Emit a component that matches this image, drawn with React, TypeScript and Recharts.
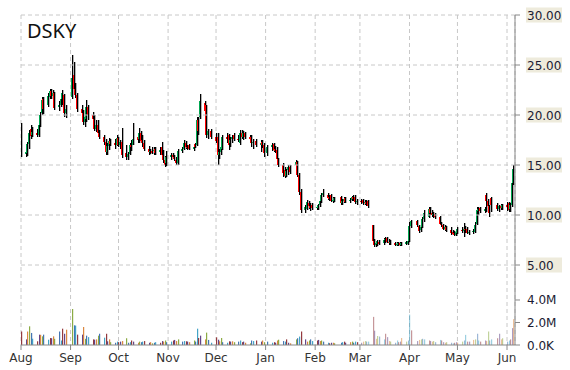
import React from "react";
import { ComposedChart, Bar, XAxis, YAxis, CartesianGrid, ReferenceLine } from "recharts";

const TITLE = "DSKY";

// trading calendar
const FIRST_DAY = "2014-08-01";
const LAST_DAY = "2015-06-05";
const AXIS_END = "2015-06-06";
const HOLIDAYS = ["2014-09-01", "2014-11-27", "2014-12-25", "2015-01-01", "2015-01-19", "2015-02-16", "2015-04-03", "2015-05-25"];

const MONTH_STARTS = ["2014-08-01", "2014-09-01", "2014-10-01", "2014-11-01", "2014-12-01", "2015-01-01", "2015-02-01", "2015-03-01", "2015-04-01", "2015-05-01", "2015-06-01"];
const MONTH_LABELS = ["Aug", "Sep", "Oct", "Nov", "Dec", "Jan", "Feb", "Mar", "Apr", "May", "Jun"];

const PRICE_TICKS = [5, 10, 15, 20, 25, 30];
const VOL_TICKS = [0, 2e6, 4e6];

// daily prices, one row per month
const OPEN = [
  17.6, 16.1, 16.2, 17.1, 18.6, 18.0, 18.2, 18.0, 19.0, 20.2, 21.6, 21.0, 21.8, 22.4, 21.9, 22.2, 20.8, 21.0, 21.6, 22.0, 20.2,
  21.8, 24.0, 22.6, 22.0, 20.6, 20.2, 19.3, 19.6, 20.8, 20.0, 19.6, 18.6, 19.0, 18.2, 17.8, 17.3, 16.3, 16.9, 17.4, 17.2, 17.0,
  17.7, 17.0, 17.3, 16.2, 15.8, 16.1, 17.0, 17.0, 17.8, 17.6, 18.2, 17.5, 17.2, 16.6, 16.3, 16.4, 16.4, 16.6, 16.3, 16.8, 16.0, 15.5, 15.2,
  15.8, 16.0, 15.8, 15.5, 15.2, 16.4, 16.6, 17.2, 16.8, 17.0, 16.6, 17.1, 17.0, 19.5, 19.8, 21.2, 21.0, 18.0, 18.4,
  17.8, 17.8, 16.0, 16.3, 16.6, 17.8, 18.0, 17.2, 17.6, 18.0, 17.6, 17.2, 18.2, 17.8, 18.2, 17.8, 17.8, 17.2, 17.4, 17.0, 17.3, 17.0,
  16.2, 16.8, 17.1, 16.6, 16.5, 15.6, 15.0, 14.5, 13.9, 14.5, 14.8, 15.0, 15.3, 14.0, 12.3, 10.5, 10.6, 11.2, 10.9, 11.0,
  10.7, 10.7, 11.0, 11.4, 12.0, 12.0, 11.8, 12.0, 11.4, 11.4, 11.8, 11.2, 11.4, 11.7, 11.4, 11.5, 11.8, 11.8, 11.3,
  11.4, 11.5, 11.2, 11.3, 11.4, 9.0, 7.4, 7.0, 7.1, 7.3, 7.2, 7.5, 7.7, 7.3, 7.2, 7.2, 7.0, 7.0, 7.2, 7.0, 7.1, 7.1,
  7.4, 8.9, 9.4, 8.9, 8.5, 8.8, 9.6, 9.8, 10.6, 10.2, 10.0, 10.1, 9.8, 9.1, 9.0, 8.6, 8.8, 8.5, 8.3, 8.2, 8.0,
  8.2, 8.5, 8.4, 8.6, 8.6, 8.2, 8.3, 8.3, 9.1, 10.4, 10.7, 10.4, 12.0, 11.4, 10.9, 11.7, 11.0, 10.6, 10.9, 10.7,
  11.0, 11.2, 10.6, 11.0, 13.2,
];
const HIGH = [
  19.2, 16.6, 17.3, 18.5, 19.0, 18.8, 18.6, 19.3, 20.3, 21.8, 21.8, 22.2, 22.6, 22.6, 22.5, 22.3, 21.4, 21.8, 22.5, 22.1, 21.0,
  26.0, 25.3, 23.2, 22.2, 21.0, 20.5, 20.0, 21.5, 21.0, 20.3, 20.0, 19.5, 19.5, 18.5, 18.0, 17.6, 17.2, 17.7, 17.6, 17.6, 18.0,
  17.8, 17.5, 18.7, 17.0, 16.3, 17.2, 17.5, 19.2, 18.2, 18.7, 18.4, 18.0, 17.5, 16.9, 16.6, 16.8, 16.8, 16.8, 16.8, 17.3, 16.5, 15.9, 16.4,
  16.2, 16.2, 16.0, 15.8, 16.6, 16.8, 17.5, 17.4, 17.0, 17.1, 17.0, 17.2, 19.8, 19.8, 22.1, 21.4, 21.0, 18.6, 18.6,
  18.2, 18.2, 16.6, 17.0, 18.0, 18.2, 18.1, 17.8, 18.0, 18.2, 18.0, 18.5, 18.5, 18.4, 18.3, 18.0, 18.0, 17.6, 17.6, 17.5, 17.5, 17.2,
  17.0, 17.2, 17.2, 16.9, 16.8, 15.7, 15.2, 14.8, 14.6, 15.0, 15.0, 15.5, 15.4, 14.2, 12.6, 11.0, 11.5, 11.4, 11.2, 11.2,
  11.0, 11.1, 11.6, 12.2, 12.6, 12.2, 12.0, 12.1, 11.8, 11.8, 11.9, 11.6, 11.8, 11.8, 11.7, 11.9, 12.0, 12.0, 11.6,
  11.6, 11.6, 11.5, 11.5, 11.5, 9.0, 7.6, 7.4, 7.5, 7.5, 7.7, 7.8, 7.8, 7.6, 7.5, 7.3, 7.3, 7.3, 7.3, 7.3, 7.4, 7.5,
  9.3, 9.5, 9.5, 9.0, 9.0, 9.8, 10.5, 10.8, 10.8, 10.5, 10.3, 10.2, 9.9, 9.3, 9.1, 9.0, 8.9, 8.8, 8.5, 8.4, 8.5,
  8.8, 8.8, 9.2, 8.9, 8.8, 8.5, 8.6, 9.3, 10.8, 10.8, 10.8, 10.8, 12.2, 11.6, 11.0, 11.8, 11.2, 11.0, 11.1, 11.1,
  11.3, 11.3, 11.2, 13.5, 15.0,
];
const LOW = [
  15.8, 15.8, 15.9, 16.6, 17.6, 17.8, 17.8, 17.8, 18.8, 20.0, 20.1, 20.8, 21.6, 21.6, 21.5, 20.5, 20.4, 20.8, 21.0, 19.8, 19.7,
  21.6, 22.2, 21.7, 20.3, 19.8, 19.0, 18.8, 19.3, 19.5, 19.2, 18.4, 18.3, 17.8, 17.6, 17.0, 16.0, 16.0, 16.5, 16.9, 16.6, 16.9,
  16.8, 16.6, 15.7, 15.5, 15.5, 16.0, 16.4, 17.0, 17.2, 17.2, 17.2, 16.8, 16.4, 16.0, 16.1, 16.1, 16.0, 16.0, 16.0, 15.7, 15.2, 14.8, 14.9,
  15.5, 15.6, 15.4, 15.0, 15.0, 16.2, 16.5, 16.6, 16.5, 16.5, 16.4, 16.7, 16.9, 18.0, 19.6, 20.0, 17.7, 17.6, 17.6,
  17.2, 15.0, 15.6, 16.0, 16.5, 17.2, 16.5, 16.8, 17.2, 17.4, 17.3, 17.0, 17.6, 17.5, 17.6, 17.4, 16.8, 16.6, 16.8, 16.3, 16.7, 15.8,
  15.9, 16.4, 16.3, 16.2, 15.4, 14.8, 13.8, 13.7, 13.8, 14.0, 14.1, 14.9, 13.8, 12.0, 10.2, 10.2, 10.5, 10.6, 10.4, 10.5,
  10.5, 10.5, 10.8, 11.2, 11.8, 11.5, 11.4, 11.3, 11.2, 11.3, 11.0, 11.0, 11.2, 11.2, 11.2, 11.4, 11.4, 11.1, 11.0,
  11.1, 11.0, 11.0, 10.9, 10.7, 7.2, 6.8, 6.8, 6.9, 7.0, 7.0, 7.2, 7.2, 7.0, 7.0, 6.9, 6.9, 6.9, 6.9, 6.9, 7.0, 7.0,
  7.3, 8.7, 8.8, 8.2, 8.3, 8.7, 9.3, 9.7, 10.0, 9.8, 9.7, 9.6, 9.0, 8.8, 8.5, 8.4, 8.3, 8.0, 8.0, 7.9, 7.9,
  8.1, 8.2, 7.8, 8.2, 8.1, 8.0, 8.1, 8.2, 9.0, 10.0, 10.2, 10.2, 10.3, 10.6, 9.8, 10.3, 10.4, 10.3, 10.5, 10.5,
  10.4, 10.3, 10.3, 10.8, 13.0,
];
const CLOSE = [
  16.0, 16.3, 17.1, 18.2, 17.9, 18.3, 18.0, 19.0, 20.0, 21.5, 20.6, 21.9, 22.4, 21.9, 22.2, 20.7, 21.0, 21.6, 22.2, 20.2, 20.6,
  23.7, 22.6, 22.0, 20.6, 20.2, 19.3, 19.8, 20.8, 20.0, 19.6, 18.6, 19.0, 18.2, 17.8, 17.3, 16.3, 16.9, 17.4, 17.1, 17.0, 17.7,
  17.0, 17.3, 16.0, 15.8, 16.1, 17.0, 16.8, 17.6, 17.5, 18.2, 17.4, 17.2, 16.6, 16.3, 16.4, 16.2, 16.5, 16.2, 16.5, 16.0, 15.5, 15.0, 15.8,
  16.0, 15.8, 15.6, 15.2, 16.4, 16.6, 17.2, 16.8, 16.7, 16.6, 16.8, 16.8, 19.5, 18.4, 21.4, 20.4, 18.0, 18.4, 17.8,
  17.4, 16.0, 16.3, 16.8, 17.8, 17.6, 17.0, 17.5, 17.8, 17.6, 17.5, 18.2, 17.8, 18.2, 17.8, 17.6, 17.2, 17.3, 17.0, 17.2, 17.0, 16.2,
  16.8, 17.0, 16.5, 16.4, 15.6, 15.0, 14.2, 13.9, 14.4, 14.8, 14.3, 15.3, 14.0, 12.3, 10.5, 10.8, 11.3, 10.9, 10.7, 10.7,
  10.8, 11.0, 11.4, 12.0, 12.2, 11.7, 11.6, 11.4, 11.5, 11.7, 11.2, 11.4, 11.6, 11.3, 11.5, 11.8, 11.6, 11.3, 11.4,
  11.3, 11.2, 11.3, 11.1, 10.9, 7.4, 7.0, 7.2, 7.4, 7.1, 7.5, 7.6, 7.3, 7.2, 7.3, 7.0, 7.1, 7.2, 7.0, 7.2, 7.3, 7.4,
  8.9, 9.4, 9.0, 8.4, 8.8, 9.6, 10.2, 10.6, 10.2, 10.0, 10.1, 9.8, 9.1, 9.0, 8.6, 8.8, 8.5, 8.2, 8.1, 8.0, 8.3,
  8.6, 8.4, 8.6, 8.5, 8.2, 8.3, 8.4, 9.0, 10.5, 10.6, 10.4, 10.6, 11.4, 10.9, 10.2, 11.0, 10.6, 10.9, 10.7, 11.0,
  10.8, 10.5, 11.0, 13.2, 14.6,
];
// volume in millions
const VOLUME = [
  1.2, 0.5, 1.2, 1.66, 1.07, 0.56, 0.33, 0.92, 0.9, 0.77, 0.92, 0.47, 0.62, 0.6, 0.77, 0.55, 1.2, 0.4, 1.45, 1.0, 1.36,
  3.2, 1.75, 1.72, 0.92, 0.92, 1.6, 0.55, 0.83, 0.7, 0.5, 0.47, 0.5, 0.83, 1.0, 0.65, 1.0, 0.33, 0.5, 0.25, 0.2, 0.3,
  0.25, 0.3, 0.35, 0.6, 0.2, 0.25, 0.4, 0.3, 0.2, 0.3, 0.25, 0.3, 0.35, 0.2, 0.25, 0.15, 0.2, 0.25, 0.2, 0.35, 0.3, 0.4, 0.25,
  0.3, 0.4, 0.45, 0.35, 0.5, 0.3, 0.35, 0.33, 0.3, 0.25, 0.4, 0.3, 1.45, 0.62, 0.83, 0.5, 1.1, 0.45, 0.2,
  0.68, 0.47, 0.33, 0.62, 0.25, 0.2, 0.33, 0.3, 0.33, 0.25, 0.3, 0.4, 0.25, 0.3, 0.2, 0.15, 0.4, 0.35, 0.4, 0.3, 0.4, 0.25,
  0.3, 0.2, 0.25, 0.2, 0.4, 0.47, 0.35, 0.3, 0.5, 0.2, 0.15, 0.5, 0.6, 0.75, 1.2, 0.5, 0.3, 0.4, 0.5, 0.35,
  0.4, 0.45, 0.35, 0.4, 0.3, 0.2, 0.15, 0.2, 0.2, 0.15, 0.2, 0.25, 0.3, 0.2, 0.25, 0.3, 0.2, 0.3, 0.25,
  0.2, 0.3, 0.35, 0.3, 0.3, 2.5, 1.27, 0.55, 0.8, 0.75, 0.5, 1.0, 0.7, 0.35, 0.3, 0.2, 0.4, 0.25, 0.3, 0.62, 0.3, 0.4,
  2.7, 1.3, 0.35, 0.45, 0.5, 0.55, 0.5, 0.4, 0.35, 0.3, 0.35, 0.25, 0.45, 0.4, 0.25, 0.2, 0.25, 0.2, 0.15, 0.2, 0.25,
  0.2, 0.3, 0.4, 0.9, 0.3, 0.3, 0.45, 0.5, 1.0, 0.4, 0.3, 0.4, 0.35, 1.2, 0.4, 0.5, 0.6, 1.0, 0.5, 0.6,
  0.3, 0.4, 0.5, 1.5, 2.3,
];

const DAY_MS = 86400000;
const T0 = Date.parse(FIRST_DAY);
const dayOf = (iso: string) => (Date.parse(iso) - T0) / DAY_MS;

const tradingDays: number[] = [];
for (let t = T0; t <= Date.parse(LAST_DAY); t += DAY_MS) {
  const dt = new Date(t);
  const wd = dt.getUTCDay();
  if (wd === 0 || wd === 6) continue;
  if (HOLIDAYS.includes(dt.toISOString().slice(0, 10))) continue;
  tradingDays.push(dayOf(dt.toISOString().slice(0, 10)));
}

const n = Math.min(tradingDays.length, OPEN.length, HIGH.length, LOW.length, CLOSE.length, VOLUME.length);
const rows = Array.from({ length: n }, (_, i) => ({
  i,
  d: tradingDays[i],
  o: OPEN[i],
  hi: HIGH[i],
  lo: LOW[i],
  c: CLOSE[i],
  range: [LOW[i], HIGH[i]],
  vol: VOLUME[i] * 1e6,
}));

const monthDays = MONTH_STARTS.map(dayOf);
const X_MAX = dayOf(AXIS_END);
const FADE_FROM = dayOf("2015-03-01");

// price 30 at the top, 5.00 line 250px lower; volume 4M sits 45px over the base
const PRICE_MIN = -3;
const PRICE_MAX = 30;
const VOL_MAX = 29.333e6;

// the volume labels share the price axis, so map them onto its scale
const volToPrice = (v: number) => PRICE_MIN + (v / VOL_MAX) * (PRICE_MAX - PRICE_MIN);
const priceToVol = (p: number) => ((p - PRICE_MIN) / (PRICE_MAX - PRICE_MIN)) * VOL_MAX;
const AXIS_TICKS = [...VOL_TICKS.map(volToPrice), ...PRICE_TICKS];

const UP = "#00a651";
const DOWN = "#ff0000";
const VOL_COLORS = ["#8e2f35", "#5c3b82", "#d98236", "#86a73a", "#3b6fb0", "#3a9fc4"];
const GRID = "#c8c8c8";
const FONT = "'DejaVu Sans', Verdana, sans-serif";

function Candle(props: any) {
  const { x, y, width, height, payload } = props;
  if (x == null || y == null || !payload) return null;
  const top = Math.min(y, y + height);
  const h = Math.abs(height);
  const span = payload.hi - payload.lo || 1;
  const py = (v: number) => top + ((payload.hi - v) / span) * h;
  const cx = Math.round(x + width / 2);
  const b0 = py(Math.max(payload.o, payload.c));
  const b1 = py(Math.min(payload.o, payload.c));
  return (
    <g>
      <rect x={cx - 1} y={b0} width={1.2} height={Math.max(1, b1 - b0)} fill={payload.c >= payload.o ? UP : DOWN} />
      <rect x={cx} y={top} width={1.3} height={Math.max(1, h)} fill="#000" />
    </g>
  );
}

function VolBar(props: any) {
  const { x, y, width, height, payload } = props;
  if (x == null || !payload || !height) return null;
  const cx = Math.round(x + width / 2);
  return (
    <rect
      x={cx}
      y={y}
      width={1.2}
      height={height}
      fill={VOL_COLORS[payload.i % VOL_COLORS.length]}
      fillOpacity={payload.d >= FADE_FROM ? 0.5 : 0.95}
    />
  );
}

function AxisTick({ x, y, payload }: any) {
  const p = Number(payload.value);
  if (p < PRICE_TICKS[0]) {
    const v = Math.round(priceToVol(p) / 1e5) * 1e5;
    const label = v === 0 ? "0.0K" : (v / 1e6).toFixed(1) + "M";
    return (
      <text x={x + 1} y={y + 4.5} fontSize={12} fontFamily={FONT} fill="#1b1b33">
        {label}
      </text>
    );
  }
  return (
    <g>
      <rect x={x} y={y - 7.5} width={36} height={15} fill="#eeebdc" />
      <text x={x + 1} y={y + 4.5} fontSize={12} fontFamily={FONT} fill="#1b1b33">
        {p.toFixed(2)}
      </text>
    </g>
  );
}

function MonthTick({ x, y, payload }: any) {
  const k = monthDays.indexOf(payload.value);
  return (
    <text x={x} y={y + 10} textAnchor="middle" fontSize={12} fontFamily={FONT} fill="#333">
      {MONTH_LABELS[k] ?? ""}
    </text>
  );
}

export default function App() {
  return (
    <div style={{ position: "absolute", left: 0, top: 0, width: 570, height: 370, background: "#fff" }}>
      <ComposedChart width={570} height={370} data={rows} margin={{ top: 15, right: 0, bottom: 0, left: 21 }}>
        <CartesianGrid xAxisId="m" yAxisId="p" horizontal={false} stroke={GRID} strokeDasharray="4 3" />
        <XAxis
          xAxisId="m"
          type="number"
          dataKey="d"
          domain={[0, X_MAX]}
          ticks={monthDays}
          interval={0}
          allowDataOverflow
          height={25}
          axisLine={{ stroke: "#888" }}
          tickLine={{ stroke: "#888" }}
          tickSize={5}
          tickMargin={2}
          tick={<MonthTick />}
        />
        <XAxis xAxisId="v" type="number" dataKey="d" domain={[0, X_MAX]} allowDataOverflow hide />
        <YAxis yAxisId="v" domain={[0, VOL_MAX]} allowDataOverflow hide />
        <YAxis
          yAxisId="p"
          orientation="right"
          width={55}
          domain={[PRICE_MIN, PRICE_MAX]}
          ticks={AXIS_TICKS}
          interval={0}
          allowDataOverflow
          axisLine={{ stroke: "#888" }}
          tickLine={{ stroke: "#888" }}
          tickSize={5}
          tickMargin={6}
          tick={<AxisTick />}
        />
        {PRICE_TICKS.map((p) => (
          <ReferenceLine key={p} xAxisId="m" yAxisId="p" y={p} stroke={GRID} strokeDasharray="4 3" />
        ))}
        <Bar xAxisId="v" yAxisId="v" dataKey="vol" barSize={2} shape={<VolBar />} isAnimationActive={false} />
        <Bar xAxisId="m" yAxisId="p" dataKey="range" barSize={2} shape={<Candle />} isAnimationActive={false} />
      </ComposedChart>
      <svg width={570} height={370} style={{ position: "absolute", left: 0, top: 0, pointerEvents: "none" }}>
        <text x={27} y={38} fontSize={20} fontFamily="'Noto Sans', sans-serif" fill="#111">
          {TITLE}
        </text>
      </svg>
    </div>
  );
}
